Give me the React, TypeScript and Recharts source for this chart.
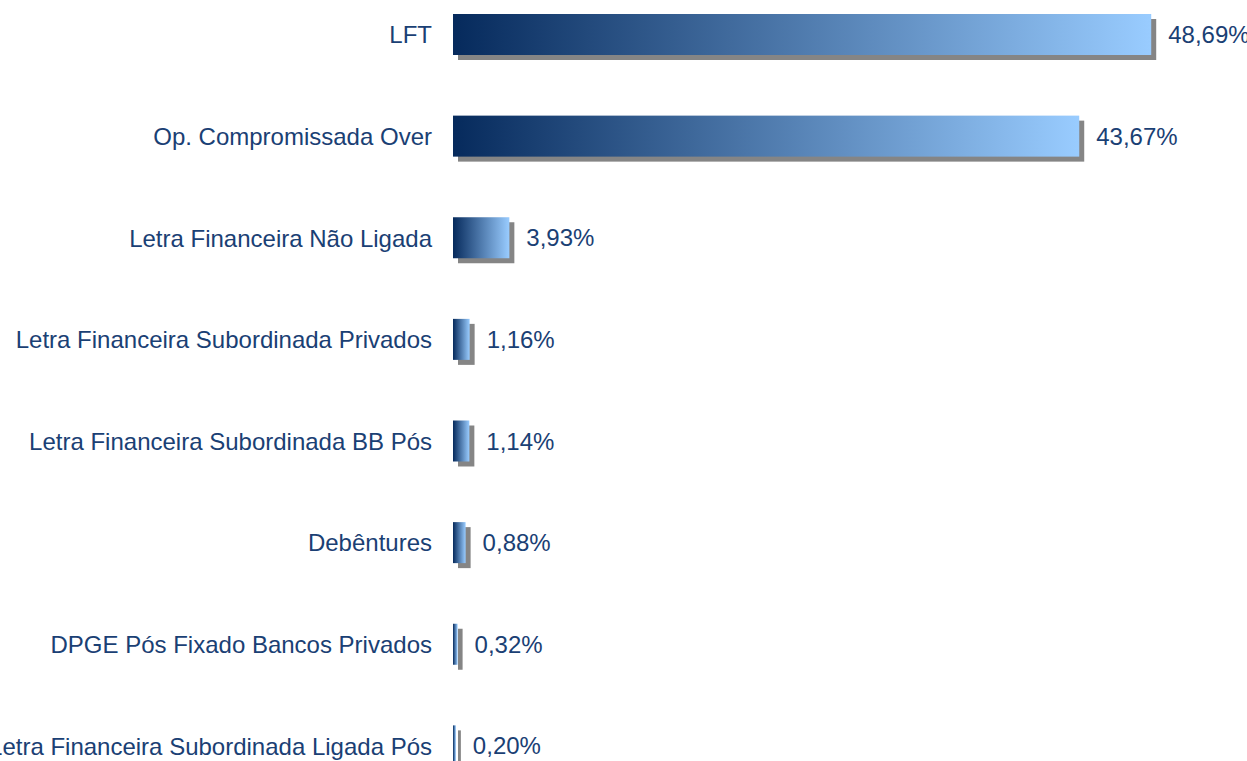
import React from "react";
import { BarChart, Bar, XAxis, YAxis, LabelList } from "recharts";

const categories = [
  "LFT",
  "Op. Compromissada Over",
  "Letra Financeira Não Ligada",
  "Letra Financeira Subordinada Privados",
  "Letra Financeira Subordinada BB Pós",
  "Debêntures",
  "DPGE Pós Fixado Bancos Privados",
  "Letra Financeira Subordinada Ligada Pós",
];
const shares = [48.69, 43.67, 3.93, 1.16, 1.14, 0.88, 0.32, 0.2];

const chartData = categories.map((name, i) => ({ name, value: shares[i] }));

const TEXT = "#1A4074";

const ShadowBar = (props: any) => {
  const { x, y, width, height } = props;
  if (!width || width <= 0) return null;
  return (
    <g>
      <rect x={x + 5} y={y + 5} width={width} height={height} fill="#858585" />
      <rect x={x} y={y} width={width} height={height} fill="url(#barGrad)" />
    </g>
  );
};

export default function App() {
  return (
    <div style={{ position: "absolute", left: -60, top: -16 }}>
      <BarChart
        width={1330}
        height={813}
        data={chartData}
        layout="vertical"
        margin={{ top: 0, right: 100, bottom: 0, left: 0 }}
        style={{ overflow: "visible", fontFamily: "'Liberation Sans', Arial, sans-serif" }}
      >
        <defs>
          <linearGradient id="barGrad" x1="0" y1="0" x2="1" y2="0">
            <stop offset="0%" stopColor="#062A5C" />
            <stop offset="100%" stopColor="#99CCFF" />
          </linearGradient>
        </defs>
        <XAxis type="number" hide domain={[0, 50]} />
        <YAxis
          type="category"
          dataKey="name"
          width={513}
          axisLine={false}
          tickLine={false}
          tickSize={0}
          tickMargin={21}
          tick={{ fill: TEXT, fontSize: 24, fontFamily: "'Liberation Sans', Arial, sans-serif" }}
          interval={0}
        />
        <Bar dataKey="value" barSize={41} shape={ShadowBar} isAnimationActive={false}>
          <LabelList
            dataKey="value"
            position="right"
            offset={17}
            fill={TEXT}
            fontSize={24}
            fontFamily="'Liberation Sans', Arial, sans-serif"
            formatter={(v: any) => `${Number(v).toFixed(2).replace(".", ",")}%`}
          />
        </Bar>
      </BarChart>
    </div>
  );
}
